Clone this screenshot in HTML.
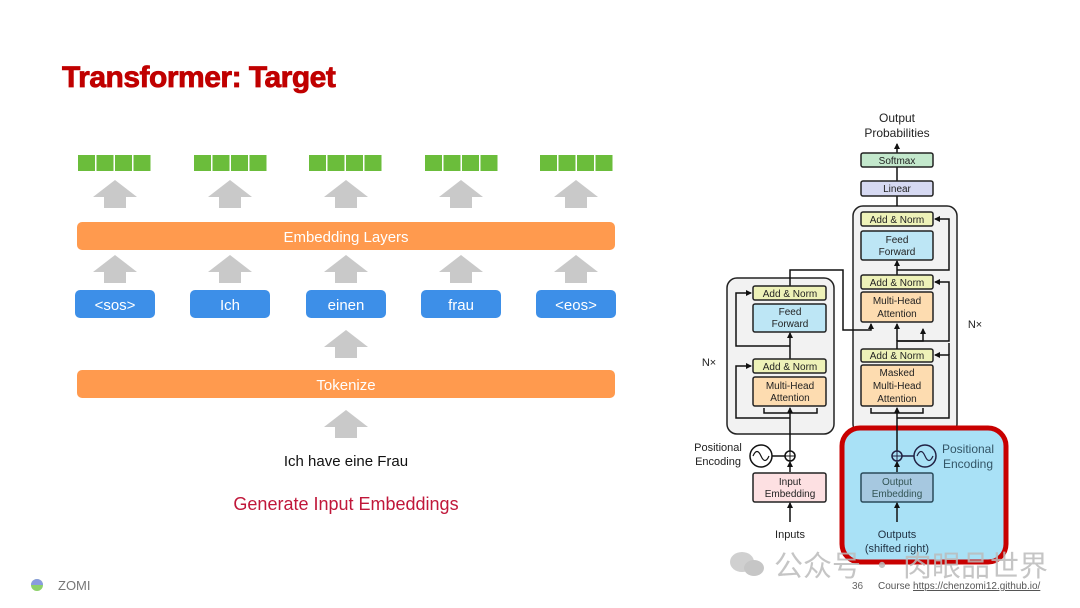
<!DOCTYPE html>
<html><head><meta charset="utf-8"><style>
html,body{margin:0;padding:0;background:#fff}
svg{display:block}
</style></head><body>
<svg width="1080" height="608" viewBox="0 0 1080 608" xmlns="http://www.w3.org/2000/svg" font-family="Liberation Sans, sans-serif">
<defs>
<marker id="ah" markerWidth="6" markerHeight="6" refX="5" refY="3" orient="auto" markerUnits="userSpaceOnUse"><path d="M0,0 L6,3 L0,6 z" fill="#111"/></marker>
<g id="up"><path d="M-22,17 L0,0 L22,17 L11,17 L11,28 L-11,28 L-11,17 z" fill="#c9c9c9"/></g>
<g id="sq"><rect x="0" y="0" width="17" height="16" fill="#6bbd3b"/><rect x="18.5" y="0" width="17" height="16" fill="#6bbd3b"/><rect x="37" y="0" width="17" height="16" fill="#6bbd3b"/><rect x="55.5" y="0" width="17" height="16" fill="#6bbd3b"/></g>
</defs>
<text x="62" y="87" font-size="30" font-weight="bold" fill="#c00000" stroke="#c00000" stroke-width="0.8" letter-spacing="-0.5">Transformer: Target</text>

<use href="#sq" x="78" y="155"/><use href="#sq" x="194" y="155"/><use href="#sq" x="309" y="155"/><use href="#sq" x="425" y="155"/><use href="#sq" x="540" y="155"/>
<use href="#up" x="115" y="180"/><use href="#up" x="230" y="180"/><use href="#up" x="346" y="180"/><use href="#up" x="461" y="180"/><use href="#up" x="576" y="180"/>
<rect x="77" y="222" width="538" height="28" rx="5" fill="#ff9a4e"/>
<text x="346" y="242" font-size="15" fill="#fff" text-anchor="middle">Embedding Layers</text>
<use href="#up" x="115" y="255"/><use href="#up" x="230" y="255"/><use href="#up" x="346" y="255"/><use href="#up" x="461" y="255"/><use href="#up" x="576" y="255"/>
<g fill="#3d8fe8"><rect x="75" y="290" width="80" height="28" rx="5"/><rect x="190" y="290" width="80" height="28" rx="5"/><rect x="306" y="290" width="80" height="28" rx="5"/><rect x="421" y="290" width="80" height="28" rx="5"/><rect x="536" y="290" width="80" height="28" rx="5"/></g>
<g font-size="15" fill="#fff" text-anchor="middle"><text x="115" y="310">&lt;sos&gt;</text><text x="230" y="310">Ich</text><text x="346" y="310">einen</text><text x="461" y="310">frau</text><text x="576" y="310">&lt;eos&gt;</text></g>
<use href="#up" x="346" y="330"/>
<rect x="77" y="370" width="538" height="28" rx="5" fill="#ff9a4e"/>
<text x="346" y="390" font-size="15" fill="#fff" text-anchor="middle">Tokenize</text>
<use href="#up" x="346" y="410"/>
<text x="346" y="466" font-size="15" fill="#111" text-anchor="middle">Ich have eine Frau</text>
<text x="346" y="510" font-size="18" fill="#c0173a" text-anchor="middle">Generate Input Embeddings</text>

<circle cx="37" cy="585" r="6" fill="#8ed16b"/><path d="M31,585 A6,6 0 0 1 43,585 z" fill="#8a9be0"/>
<text x="58" y="590" font-size="13" fill="#777">ZOMI</text>

<g font-size="10" fill="#222" text-anchor="middle" stroke-width="1.5">
<text x="897" y="122" font-size="12">Output</text><text x="897" y="137" font-size="12">Probabilities</text>
<rect x="853" y="206" width="104" height="228" rx="10" fill="#f2f2f2" stroke="#222"/>
<rect x="727" y="278" width="107" height="156" rx="10" fill="#f2f2f2" stroke="#222"/>
<line x1="897" y1="206" x2="897" y2="144" stroke="#111" marker-end="url(#ah)"/>
<rect x="861" y="153" width="72" height="14" rx="2" fill="#c3e8cc" stroke="#222"/><text x="897" y="164">Softmax</text>
<rect x="861" y="181" width="72" height="15" rx="2" fill="#d6d9f2" stroke="#222"/><text x="897" y="192">Linear</text>
<rect x="861" y="212" width="72" height="14" rx="2" fill="#eef2b8" stroke="#222"/><text x="897" y="223">Add &amp; Norm</text>
<rect x="861" y="231" width="72" height="29" rx="2" fill="#bde6f5" stroke="#222"/><text x="897" y="243">Feed</text><text x="897" y="255">Forward</text>
<line x1="897" y1="275" x2="897" y2="261" stroke="#111" marker-end="url(#ah)"/>
<rect x="861" y="275" width="72" height="14" rx="2" fill="#eef2b8" stroke="#222"/><text x="897" y="286">Add &amp; Norm</text>
<rect x="861" y="292" width="72" height="30" rx="2" fill="#fddcb0" stroke="#222"/><text x="897" y="304">Multi-Head</text><text x="897" y="317">Attention</text>
<rect x="861" y="349" width="72" height="13" rx="2" fill="#eef2b8" stroke="#222"/><text x="897" y="359">Add &amp; Norm</text>
<rect x="861" y="365" width="72" height="41" rx="2" fill="#fddcb0" stroke="#222"/><text x="897" y="376">Masked</text><text x="897" y="389">Multi-Head</text><text x="897" y="402">Attention</text>
<path d="M897,349 V341 H923 V329" fill="none" stroke="#111" marker-end="url(#ah)"/>
<path d="M897,341 H949 V282 H935" fill="none" stroke="#111" marker-end="url(#ah)"/>
<path d="M897,270 H949 V219 H935" fill="none" stroke="#111" marker-end="url(#ah)"/>
<line x1="897" y1="341" x2="897" y2="324" stroke="#111" marker-end="url(#ah)"/>
<path d="M790,286 V270 H843 V330 H871 V324" fill="none" stroke="#111" marker-end="url(#ah)"/>
<path d="M949,355 V343" fill="none" stroke="#111"/>
<path d="M897,418 H949 V355 H935" fill="none" stroke="#111" marker-end="url(#ah)"/>
<text x="975" y="328" font-size="11">N×</text>
<rect x="753" y="286" width="73" height="14" rx="2" fill="#eef2b8" stroke="#222"/><text x="790" y="297">Add &amp; Norm</text>
<rect x="753" y="304" width="73" height="28" rx="2" fill="#bde6f5" stroke="#222"/><text x="790" y="315">Feed</text><text x="790" y="327">Forward</text>
<line x1="790" y1="359" x2="790" y2="333" stroke="#111" marker-end="url(#ah)"/>
<path d="M790,346 H736 V293 H751" fill="none" stroke="#111" marker-end="url(#ah)"/>
<rect x="753" y="359" width="73" height="14" rx="2" fill="#eef2b8" stroke="#222"/><text x="790" y="370">Add &amp; Norm</text>
<rect x="753" y="377" width="73" height="29" rx="2" fill="#fddcb0" stroke="#222"/><text x="790" y="389">Multi-Head</text><text x="790" y="401">Attention</text>
<path d="M790,418 H736 V366 H751" fill="none" stroke="#111" marker-end="url(#ah)"/>
<path d="M764,408 V413 H817 V408" fill="none" stroke="#111"/>
<line x1="790" y1="451" x2="790" y2="408" stroke="#111" marker-end="url(#ah)"/>
<text x="709" y="366" font-size="11">N×</text>
<circle cx="790" cy="456" r="5" fill="#fff" stroke="#111"/><path d="M785,456 H795 M790,451 V461" stroke="#111" stroke-width="1"/>
<circle cx="761" cy="456" r="11" fill="#fff" stroke="#111"/><path d="M753,456 Q757,447 761,456 T769,456" fill="none" stroke="#111" stroke-width="1.2"/>
<line x1="772" y1="456" x2="785" y2="456" stroke="#111"/>
<text x="718" y="451" font-size="11">Positional</text><text x="718" y="465" font-size="11">Encoding</text>
<rect x="753" y="473" width="73" height="29" rx="2" fill="#fde0e2" stroke="#222"/><text x="790" y="485">Input</text><text x="790" y="497">Embedding</text>
<line x1="790" y1="472" x2="790" y2="462" stroke="#111" marker-end="url(#ah)"/>
<line x1="790" y1="522" x2="790" y2="503" stroke="#111" marker-end="url(#ah)"/>
<text x="790" y="538" font-size="11">Inputs</text>
<rect x="842" y="428" width="164" height="134" rx="18" fill="#a9e1f6" stroke="#c80000" stroke-width="5"/>
<path d="M897,451 V408" stroke="#111" marker-end="url(#ah)"/>
<path d="M871,408 V413 H923 V408" fill="none" stroke="#111"/>
<circle cx="897" cy="456" r="5" fill="none" stroke="#224"/><path d="M892,456 H902 M897,451 V461" stroke="#224" stroke-width="1"/>
<circle cx="925" cy="456" r="11" fill="none" stroke="#224"/><path d="M917,456 Q921,447 925,456 T933,456" fill="none" stroke="#224" stroke-width="1.2"/>
<line x1="902" y1="456" x2="914" y2="456" stroke="#224"/>
<text x="968" y="453" font-size="12" fill="#356">Positional</text><text x="968" y="468" font-size="12" fill="#356">Encoding</text>
<rect x="861" y="473" width="72" height="29" rx="2" fill="#a6c8e0" stroke="#2a4a5a"/><text x="897" y="485" fill="#355">Output</text><text x="897" y="497" fill="#355">Embedding</text>
<line x1="897" y1="472" x2="897" y2="462" stroke="#111" marker-end="url(#ah)"/>
<line x1="897" y1="522" x2="897" y2="503" stroke="#111" marker-end="url(#ah)"/>
<text x="897" y="538" font-size="11" fill="#234">Outputs</text><text x="897" y="552" font-size="11" fill="#234">(shifted right)</text>
</g>
<g opacity="0.55"><ellipse cx="742" cy="562" rx="12" ry="10" fill="#aaa"/><ellipse cx="754" cy="568" rx="10" ry="8" fill="#999"/></g>
<text x="774" y="576" font-size="29" fill="#bbb" fill-opacity="0.85" font-family="Noto Sans CJK SC, sans-serif">公众号 · 肉眼品世界</text>
<text x="852" y="589" font-size="10" fill="#666">36</text>
<text x="878" y="589" font-size="10" fill="#555">Course <tspan text-decoration="underline">https://chenzomi12.github.io/</tspan></text>
</svg>
</body></html>
